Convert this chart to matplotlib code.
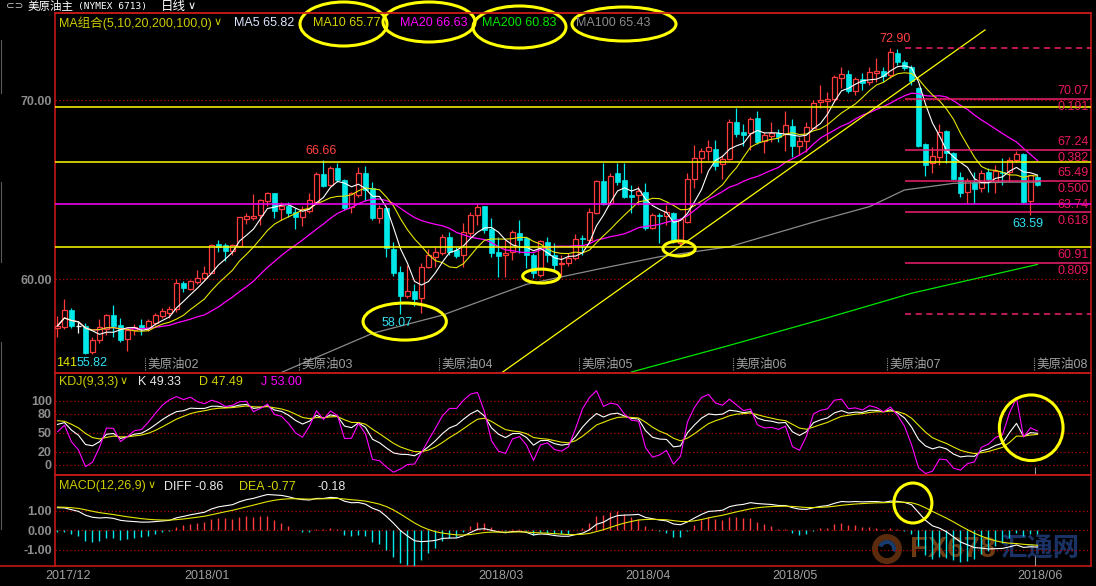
import numpy as np
import pandas as pd
import matplotlib
matplotlib.use("Agg")
import matplotlib.pyplot as plt
from matplotlib.patches import Ellipse, Rectangle, Wedge

plt.rcParams['font.family'] = ['Liberation Sans', 'Noto Sans CJK SC', 'DejaVu Sans']

# ---- daily OHLC of the crude oil main contract ----
opens = [
    57.30, 57.35, 58.28, 57.40, 57.41, 55.93, 56.59, 57.20, 58.00, 57.45,
    56.65, 57.15, 57.44, 57.26, 57.58, 57.95, 58.10, 58.32, 59.77, 59.46,
    59.83, 60.09, 60.37, 61.97, 61.91, 61.60, 61.86, 63.37, 63.45, 63.59,
    64.37, 64.80, 63.90, 64.10, 63.78, 63.50, 63.84, 64.34, 65.87, 65.27,
    66.20, 65.55, 64.06, 64.71, 65.96, 65.08, 63.40, 63.96, 61.67, 60.41,
    59.07, 59.34, 58.93, 60.70, 61.26, 61.49, 62.38, 61.63, 61.36, 62.57,
    63.59, 64.09, 62.79, 61.54, 61.36, 61.54, 62.57, 62.29, 61.36, 60.24,
    62.10, 61.36, 60.85, 60.93, 61.17, 62.32, 62.19, 63.68, 65.51, 64.24,
    65.92, 65.55, 64.71, 64.71, 64.89, 62.85, 63.59, 63.56, 63.69, 62.00,
    63.22, 65.59, 66.76, 67.19, 67.28, 66.42, 66.70, 68.81, 68.23, 68.19,
    68.99, 67.73, 68.03, 68.19, 68.12, 68.57, 67.45, 67.73, 68.44, 69.89,
    69.95, 70.06, 71.23, 71.47, 70.54, 71.17, 71.04, 71.55, 71.64, 71.41,
    72.63, 72.16, 71.84, 70.67, 67.54, 66.48, 66.85, 68.29, 67.08, 65.74,
    64.90, 65.46, 65.08, 66.01, 65.46, 66.01, 66.01, 66.67, 67.00, 64.38, 65.70,
]
highs = [
    57.95, 58.88, 58.38, 57.63, 57.58, 56.76, 57.78, 58.06, 58.56, 57.82,
    57.26, 57.50, 57.78, 57.78, 58.13, 58.38, 58.53, 59.99, 59.90, 59.96,
    60.52, 60.74, 61.97, 62.19, 62.01, 61.97, 63.50, 63.68, 64.77, 64.50,
    64.90, 64.80, 64.34, 64.34, 63.97, 64.10, 64.84, 66.00, 66.66, 66.33,
    66.48, 65.60, 64.90, 66.29, 66.33, 65.45, 64.15, 64.06, 62.10, 60.74,
    60.80, 59.73, 60.89, 61.67, 61.78, 62.53, 62.66, 61.82, 63.12, 63.78,
    64.28, 64.09, 63.40, 62.38, 62.19, 62.75, 63.31, 62.38, 61.45, 62.19,
    62.38, 62.01, 61.36, 61.49, 62.51, 62.47, 63.96, 65.55, 66.48, 65.96,
    66.48, 66.48, 65.27, 65.21, 65.40, 63.72, 63.69, 64.15, 63.75, 63.40,
    65.92, 67.50, 67.32, 67.78, 67.78, 66.95, 68.94, 69.55, 68.68, 69.05,
    69.40, 68.25, 68.77, 68.38, 69.40, 68.94, 67.97, 68.81, 70.02, 70.86,
    70.48, 71.41, 71.88, 71.69, 71.32, 71.51, 71.88, 72.35, 71.88, 72.90,
    72.85, 72.25, 71.97, 70.76, 67.60, 67.37, 68.66, 68.34, 67.13, 66.01,
    65.64, 66.01, 66.11, 66.20, 66.39, 66.76, 66.82, 67.18, 67.04, 65.83, 65.83,
]
lows = [
    56.76, 57.24, 57.30, 57.02, 55.82, 55.85, 56.46, 56.89, 56.79, 56.51,
    56.01, 56.90, 56.89, 57.13, 57.45, 57.82, 57.82, 58.19, 59.31, 59.40,
    59.74, 59.96, 60.33, 61.54, 61.04, 61.36, 61.82, 63.09, 63.30, 63.03,
    64.10, 63.41, 63.31, 63.50, 62.80, 63.00, 63.70, 64.25, 65.15, 65.20,
    65.46, 63.88, 63.69, 64.61, 64.40, 63.31, 63.12, 61.23, 60.18, 58.07,
    58.93, 58.51, 58.13, 60.61, 60.70, 61.36, 61.36, 61.20, 60.70, 62.38,
    63.03, 62.60, 61.26, 60.15, 60.11, 61.08, 61.45, 60.61, 60.05, 60.15,
    60.98, 60.52, 60.15, 60.74, 61.08, 61.36, 62.10, 63.65, 64.15, 64.15,
    65.27, 64.52, 63.68, 64.15, 62.75, 62.80, 62.01, 63.04, 62.00, 61.85,
    63.13, 65.08, 65.92, 66.67, 66.11, 65.59, 66.67, 67.97, 67.45, 67.22,
    67.56, 67.08, 67.69, 67.69, 67.19, 66.85, 66.95, 67.13, 68.44, 69.55,
    67.69, 69.93, 70.67, 70.43, 70.30, 70.58, 70.86, 71.04, 71.04, 71.23,
    71.97, 71.69, 70.86, 67.41, 65.77, 65.92, 66.39, 66.48, 65.59, 64.58,
    64.25, 64.25, 64.90, 64.90, 64.80, 65.27, 65.46, 66.57, 64.28, 63.59, 65.23,
]
closes = [
    57.40, 58.28, 57.41, 57.40, 55.90, 56.61, 57.31, 58.00, 57.39, 56.61,
    57.17, 57.35, 57.26, 57.67, 58.00, 58.23, 58.34, 59.77, 59.49, 59.90,
    60.05, 60.33, 61.91, 61.82, 61.58, 61.91, 63.46, 63.54, 63.55, 64.43,
    64.80, 63.84, 64.10, 63.69, 63.46, 63.90, 64.43, 65.87, 65.24, 66.24,
    65.55, 63.97, 64.84, 65.96, 65.00, 63.40, 63.96, 61.73, 60.37, 59.07,
    59.34, 58.92, 60.70, 61.36, 61.52, 62.34, 61.54, 61.32, 62.62, 63.59,
    64.06, 62.75, 61.45, 61.30, 61.45, 62.66, 62.19, 61.36, 60.33, 62.14,
    61.36, 60.80, 60.89, 61.21, 62.23, 62.25, 63.74, 65.51, 64.20, 65.77,
    65.45, 64.61, 64.61, 64.93, 62.85, 63.59, 63.54, 63.74, 62.20, 63.35,
    65.59, 66.76, 67.17, 67.37, 66.33, 66.70, 68.77, 68.12, 68.06, 68.94,
    67.69, 68.06, 68.19, 67.97, 68.62, 67.45, 67.73, 68.49, 69.83, 70.02,
    70.05, 71.28, 71.47, 70.54, 71.17, 70.99, 71.56, 71.64, 71.36, 72.68,
    72.16, 71.80, 71.10, 67.45, 66.40, 66.89, 68.21, 67.08, 65.62, 64.84,
    65.51, 65.05, 65.96, 65.60, 66.07, 65.92, 66.66, 67.00, 64.34, 65.83, 65.29,
]

# long moving averages (values on the visible bars)
ma100_bars = [32, 45, 55, 67, 77, 86, 96, 109, 116, 121, 128, 136, 140]
ma100_vals = [54.80, 56.98, 58.00, 59.72, 60.55, 61.26, 61.82, 63.31, 64.06, 64.99, 65.36, 65.43, 65.43]
ma200_bars = [82, 96, 110, 122, 140]
ma200_vals = [54.82, 56.31, 57.85, 59.22, 60.83]

# drawn studies
trend_bars = [63.6, 132.5]
trend_prices = [54.82, 73.93]
yellow_levels = [69.61, 66.54, 61.79]
magenta_levels = [64.19]
fib_high, fib_low = 72.90, 58.07
fib_prices = [70.07, 67.24, 65.49, 63.74, 60.91]
fib_ratios = ['0.191', '0.382', '0.500', '0.618', '0.809']
fib_start = 121.1

contract_bars = [13, 35, 55, 75, 97, 119, 140]
contract_names = ['美原油02', '美原油03', '美原油04', '美原油05', '美原油06', '美原油07', '美原油08']

date_ticks = [1.5, 21.3, 63.4, 84.4, 105.4, 140.4]
date_labels = ['2017/12', '2018/01', '2018/03', '2018/04', '2018/05', '2018/06']

kdj_seed = (68.0, 72.0)           # K, D carried in from the previous session
macd_seed = (57.35, 56.10, 1.20)  # EMA12, EMA26, DEA carried in

# ---- indicators ----
x = np.arange(len(closes))
o = np.array(opens); h = np.array(highs); l = np.array(lows); c = np.array(closes)
cs = pd.Series(c)
ma5 = cs.rolling(5, min_periods=1).mean()
ma10 = cs.rolling(10, min_periods=1).mean()
ma20 = cs.rolling(20, min_periods=1).mean()

hh = pd.Series(h).rolling(9, min_periods=1).max()
ll = pd.Series(l).rolling(9, min_periods=1).min()
rsv = ((cs - ll) / (hh - ll) * 100).to_numpy()
K, D = [], []
kp, dp = kdj_seed
for r in rsv:
    kp = (2 * kp + r) / 3
    dp = (2 * dp + kp) / 3
    K.append(kp); D.append(dp)
K = np.array(K); D = np.array(D); J = 3 * K - 2 * D

e12, e26, dea = macd_seed
DIF, DEA = [], []
for v in c:
    e12 = (11 * e12 + 2 * v) / 13
    e26 = (25 * e26 + 2 * v) / 27
    dif = e12 - e26
    dea = (8 * dea + 2 * dif) / 10
    DIF.append(dif); DEA.append(dea)
DIF = np.array(DIF); DEA = np.array(DEA)
HIST = 2 * (DIF - DEA)

ma_last = {'MA5': ma5.iloc[-1], 'MA10': ma10.iloc[-1], 'MA20': ma20.iloc[-1],
           'MA200': ma200_vals[-1], 'MA100': ma100_vals[-1]}

# ---- figure layout (pixel based) ----
W, H = 1096, 586
fig = plt.figure(figsize=(W / 100, H / 100), dpi=100, facecolor='black')

def px_axes(x0, y0, x1, y1, z):
    a = fig.add_axes([x0 / W, 1 - y1 / H, (x1 - x0) / W, (y1 - y0) / H], zorder=z)
    a.set_facecolor('none')
    return a

BORDER = '#c01818'
GRID = '#b00000'
GRAY = '#8c8c8c'
UP, DN = '#ff3b3b', '#00e8e8'
FIBC = '#f0206e'
FIBT = '#e8185f'

bg = px_axes(0, 0, W, H, 0)
bg.set_xlim(0, W); bg.set_ylim(H, 0); bg.axis('off')

ax = px_axes(55, 13, 1091, 372.5, 2)
kx = px_axes(55, 372.5, 1091, 475.3, 2)
mx = px_axes(55, 475.3, 1091, 566, 2)
ov = px_axes(0, 0, W, H, 5)
ov.set_xlim(0, W); ov.set_ylim(H, 0); ov.axis('off')

XL = (-0.357, 147.643)
for a in (ax, kx, mx):
    a.set_xlim(*XL)
    for s in a.spines.values():
        s.set_color(BORDER); s.set_linewidth(1.2)
    a.tick_params(length=0, colors=GRAY, labelsize=9, pad=2.2)
    a.set_xticks([])

ax.set_ylim(54.793, 74.877)
kx.set_ylim(-16.64, 144.74)
mx.set_ylim(-1.831, 2.821)

ax.set_yticks([60, 70]); ax.set_yticklabels(['60.00', '70.00'], fontweight='bold')
kx.set_yticks([0, 20, 50, 80, 100]); kx.set_yticklabels(['0', '20', '50', '80', '100'], fontweight='bold')
mx.set_yticks([-1, 0, 1]); mx.set_yticklabels(['-1.00', '0.00', '1.00'], fontweight='bold')
mx.set_xticks(date_ticks)
mx.set_xticklabels(date_labels, color='#a0a0a0', fontsize=9)
mx.tick_params(axis='x', pad=3)

dot = (0, (1, 2))
for lv in (60, 70):
    ax.axhline(lv, color=GRID, ls=dot, lw=0.9, zorder=1)
for lv in (0, 20, 50, 80, 100):
    kx.axhline(lv, color=GRID, ls=dot, lw=0.9, zorder=1)
for lv in (-1, 0, 1):
    mx.axhline(lv, color=GRID, ls=dot, lw=0.9, zorder=1)

# ---- candles ----
bw = 0.64
for i in x:
    oi, hi, li, ci = o[i], h[i], l[i], c[i]
    if ci > oi:
        ax.vlines(i, ci, hi, color=UP, lw=0.9, zorder=3)
        ax.vlines(i, li, oi, color=UP, lw=0.9, zorder=3)
        ax.add_patch(Rectangle((i - bw / 2, oi), bw, ci - oi, facecolor='black',
                               edgecolor=UP, lw=0.9, zorder=3))
    elif ci < oi:
        ax.vlines(i, li, hi, color=DN, lw=0.9, zorder=3)
        ax.add_patch(Rectangle((i - bw / 2, ci), bw, oi - ci, facecolor=DN,
                               edgecolor=DN, lw=0.5, zorder=3))
    else:
        ax.vlines(i, li, hi, color='white', lw=0.9, zorder=3)
        ax.hlines(ci, i - bw / 2, i + bw / 2, color='white', lw=0.9, zorder=3)

# ---- moving averages ----
ax.plot(ma100_bars, ma100_vals, color='#8a8a8a', lw=0.9, zorder=4)
ax.plot(ma200_bars, ma200_vals, color='#00e600', lw=0.9, zorder=4)
ax.plot(x, ma20, color='#ff00ff', lw=0.9, zorder=4)
ax.plot(x, ma10, color='#e6e600', lw=0.8, zorder=4)
ax.plot(x, ma5, color='white', lw=0.8, zorder=4)

# ---- drawn lines ----
for lv in yellow_levels:
    ax.axhline(lv, color='#ffff00', lw=1.1, zorder=5)
for lv in magenta_levels:
    ax.axhline(lv, color='#ff00ff', lw=1.1, zorder=5)
ax.plot(trend_bars, trend_prices, color='#ffff00', lw=0.9, zorder=5)

ax.hlines(fib_prices, fib_start, XL[1], color=FIBC, lw=1.1, zorder=5)
ax.hlines([fib_high, fib_low], fib_start, XL[1], color=FIBC, lw=1.1,
          linestyles=(0, (4, 3)), zorder=5)
for p, r in zip(fib_prices, fib_ratios):
    ax.annotate(f'{p:.2f}', xy=(147.35, p), xytext=(0, 5.6), textcoords='offset points',
                ha='right', va='center', color=FIBT, fontsize=9, zorder=6)
    ax.annotate(r, xy=(147.35, p), xytext=(0, -6.0), textcoords='offset points',
                ha='right', va='center', color=FIBT, fontsize=9, zorder=6)

# extreme price labels
imax = int(np.argmax(h)); imin = int(np.argmin(l))
ax.annotate(f'{h[38]:.2f}', xy=(38, h[38]), xytext=(-2, 6.5), textcoords='offset points',
            ha='center', va='center', color='#ff4040', fontsize=9, zorder=6)
ax.annotate(f'{h[imax]:.2f}', xy=(imax, h[imax]), xytext=(3.2, 6.5), textcoords='offset points',
            ha='center', va='center', color='#ff4040', fontsize=9, zorder=6)
ax.annotate(f'{l[49]:.2f}', xy=(49, l[49]), xytext=(-2.5, -6.8), textcoords='offset points',
            ha='center', va='center', color='#30e0f0', fontsize=9, zorder=6)
ax.annotate(f'{l[139]:.2f}', xy=(139, l[139]), xytext=(-2.2, -6.5), textcoords='offset points',
            ha='center', va='center', color='#30e0f0', fontsize=9, zorder=6)
ov.text(56, 362.7, str(len(closes)), color='#e6e600', fontsize=9, ha='left', va='center')
ax.annotate(f'{l[imin]:.2f}', xy=(imin, l[imin]), xytext=(4.8, -6.2), textcoords='offset points',
            ha='center', va='center', color='#30e0f0', fontsize=9, zorder=7)

# contract roll markers
for b, name in zip(contract_bars, contract_names):
    ax.vlines(b - 0.5, 54.95, 55.65, color='#9a9a9a', lw=0.8, linestyles=(0, (1, 1)), zorder=6)
    ax.annotate(name, xy=(b - 0.5, 55.21), xytext=(1.5, 0), textcoords='offset points',
                ha='left', va='center', color='#a0a0a0', fontsize=9, zorder=6)

# circled spots
ell_kw = dict(fill=False, edgecolor='#ffff00', lw=2.2, zorder=8, clip_on=False)
ax.add_patch(Ellipse((49.6, 57.64), 11.9, 2.07, **ell_kw))
ax.add_patch(Ellipse((69.1, 60.18), 5.3, 0.78, **ell_kw))
ax.add_patch(Ellipse((88.8, 61.72), 4.6, 0.84, **ell_kw))

# ---- KDJ ----
kx.plot(x, K, color='white', lw=0.8, zorder=3)
kx.plot(x, D, color='#e6e600', lw=0.8, zorder=3)
kx.plot(x, J, color='#ff00ff', lw=0.8, zorder=3)
kx.vlines(x[-1] - 0.3, -16.6, -3, color='#9a9a9a', lw=0.8, zorder=3)
kx.add_patch(Ellipse((139.1, 58.0), 9.1, 103.0, **ell_kw))

# ---- MACD ----
mx.vlines(x, 0, HIST, colors=[UP if v >= 0 else DN for v in HIST], lw=1.0, zorder=3)
mx.plot(x, DIF, color='white', lw=0.8, zorder=4)
mx.plot(x, DEA, color='#e6e600', lw=0.8, zorder=4)
mx.vlines(x[-1] - 0.3, -1.83, -1.3, color='#9a9a9a', lw=0.8, zorder=3)
mx.add_patch(Ellipse((122.2, 1.40), 5.43, 2.05, **ell_kw))

# ---- watermark ----
bg.add_patch(Wedge((887, 549), 15, 0, 360, width=6, facecolor='#7a3a12', alpha=0.75))
bg.add_patch(Wedge((887, 549), 9, 200, 380, width=4, facecolor='#1f4a8a', alpha=0.8))
bg.text(910, 549, 'FX678', color='#8a4a18', fontsize=21, fontweight='bold', va='center',
        ha='left', alpha=0.8, family=['Liberation Sans'])
bg.text(1000, 549, '汇通网', color='#1f3c78', fontsize=19, fontweight='bold', va='center',
        ha='left', alpha=0.85, family=['Noto Sans CJK SC'])

# ---- window frame bits ----
for y0, y1 in [(40, 93), (182, 262), (342, 529)]:
    ov.plot([1.2, 1.2], [y0, y1], color='#5a5a5a', lw=0.8)

# ---- header texts ----
ov.plot([55, 1091], [13, 13], color=BORDER, lw=1.2)
ov.plot([0, 55], [566, 566], color=BORDER, lw=1.2)
ov.text(6, 6.5, '⊂⊃', color='#c8c8c8', fontsize=7.5, va='center', ha='left', family=['DejaVu Sans'])
ov.text(28, 6.5, '美原油主', color='white', fontsize=8.3, va='center', ha='left', family=['Noto Sans CJK SC'])
ov.text(78, 6.8, '(NYMEX 6713)', color='white', fontsize=6.8, va='center', ha='left', family=['DejaVu Sans Mono'])
ov.text(161, 6.5, '日线', color='white', fontsize=9, va='center', ha='left', family=['Noto Sans CJK SC'])
ov.text(188, 6.0, '∨', color='white', fontsize=8, va='center', ha='left', family=['DejaVu Sans'])

LY = 23.3
ov.text(59, LY, 'MA组合(5,10,20,200,100,0)', color='#cccc00', fontsize=9, va='center', ha='left')
ov.text(214, LY - 1, '∨', color='#cccc00', fontsize=8, va='center', ha='left', family=['DejaVu Sans'])
ma_pos = {'MA5': (234.3, '#dde6ff'), 'MA10': (312.7, '#d4d400'), 'MA20': (400, '#ff00ff'),
          'MA200': (482.3, '#00e600'), 'MA100': (575.7, '#8a8a8a')}
for name, (px, col) in ma_pos.items():
    ov.text(px, LY, f'{name} {ma_last[name]:.2f}', color=col, fontsize=9, va='center', ha='left')

for cx, cy, ew, eh in [(343.5, 24, 87, 44), (429, 22, 92, 40), (519.5, 27, 93, 42), (624, 24, 104, 34)]:
    ov.add_patch(Ellipse((cx, cy), ew, eh, fill=False, edgecolor='#ffff00', lw=2.2))

KY = 382.2
ov.text(59, KY, 'KDJ(9,3,3)', color='#cccc00', fontsize=9, va='center', ha='left')
ov.text(120, KY - 1, '∨', color='#cccc00', fontsize=8, va='center', ha='left', family=['DejaVu Sans'])
ov.text(138, KY, f'K {K[-1]:.2f}', color='#e8e8e8', fontsize=9, va='center', ha='left')
ov.text(199, KY, f'D {D[-1]:.2f}', color='#d4d400', fontsize=9, va='center', ha='left')
ov.text(261, KY, f'J {J[-1]:.2f}', color='#ff00ff', fontsize=9, va='center', ha='left')

MY = 486.5
ov.text(59, MY, 'MACD(12,26,9)', color='#cccc00', fontsize=9, va='center', ha='left')
ov.text(147.5, MY - 1, '∨', color='#cccc00', fontsize=8, va='center', ha='left', family=['DejaVu Sans'])
ov.text(163.6, MY, f'DIFF {DIF[-1]:.2f}', color='#e8e8e8', fontsize=9, va='center', ha='left')
ov.text(239.4, MY, f'DEA {DEA[-1]:.2f}', color='#d4d400', fontsize=9, va='center', ha='left')
ov.text(317.4, MY, f'{HIST[-1]:.2f}', color='#e8e8e8', fontsize=9, va='center', ha='left')

fig.savefig('out.png', dpi=100, facecolor='black')
